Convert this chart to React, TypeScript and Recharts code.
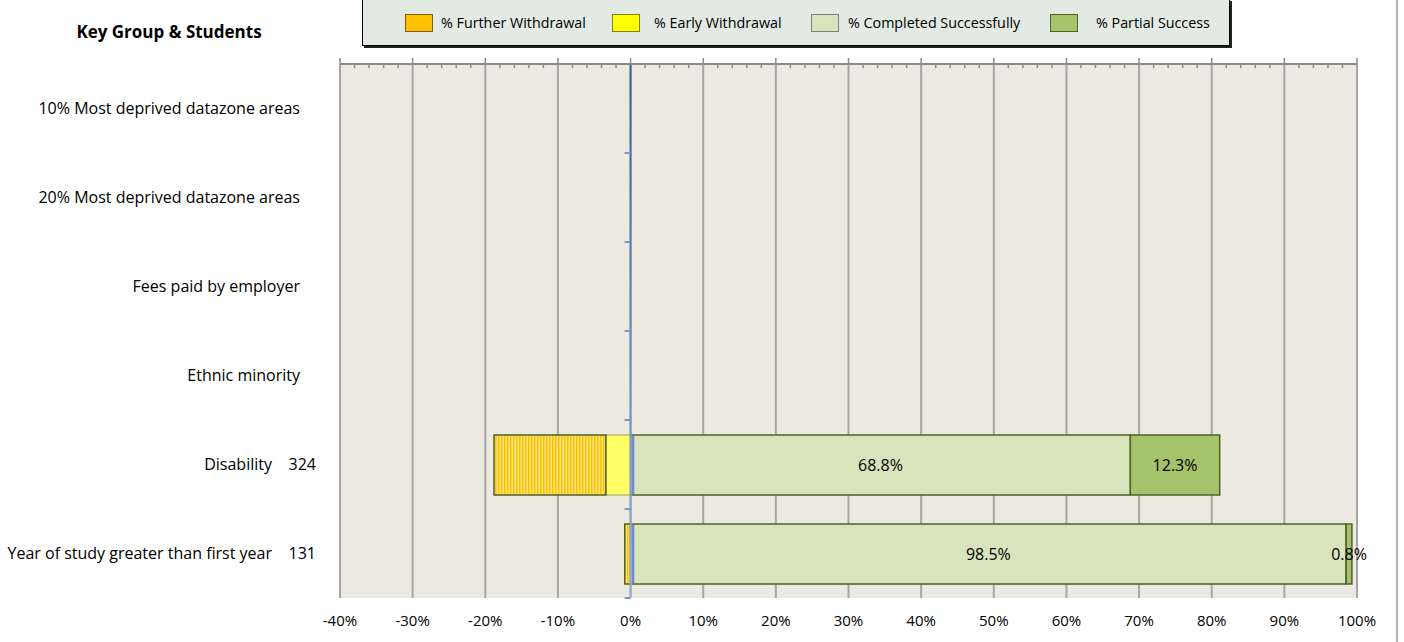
import React from "react";
import {
  BarChart, Bar, XAxis, YAxis, CartesianGrid, ReferenceLine, LabelList, Rectangle,
} from "recharts";

// key groups (top to bottom) and student counts
const groups = [
  "10% Most deprived datazone areas",
  "20% Most deprived datazone areas",
  "Fees paid by employer",
  "Ethnic minority",
  "Disability",
  "Year of study greater than first year",
];
const counts: (number | null)[] = [null, null, null, null, 324, 131];

// percentages; withdrawals plotted on the negative side
const earlyWithdrawal: (number | null)[] = [null, null, null, null, -3.4, 0];
const furtherWithdrawal: (number | null)[] = [null, null, null, null, -15.4, -0.8];
const completedSuccessfully: (number | null)[] = [null, null, null, null, 68.8, 98.5];
const partialSuccess: (number | null)[] = [null, null, null, null, 12.3, 0.8];

const majorTicks = [-40, -30, -20, -10, 0, 10, 20, 30, 40, 50, 60, 70, 80, 90, 100];
const minorTicks = [
  -40, -38, -36, -34, -32, -30, -28, -26, -24, -22, -20, -18, -16, -14, -12, -10, -8, -6, -4, -2,
  0, 2, 4, 6, 8, 10, 12, 14, 16, 18, 20, 22, 24, 26, 28, 30, 32, 34, 36, 38, 40, 42, 44, 46, 48,
  50, 52, 54, 56, 58, 60, 62, 64, 66, 68, 70, 72, 74, 76, 78, 80, 82, 84, 86, 88, 90, 92, 94, 96, 98, 100,
];

const data = groups.map((name, i) => ({
  name,
  early: earlyWithdrawal[i],
  further: furtherWithdrawal[i],
  completed: completedSuccessfully[i],
  partial: partialSuccess[i],
}));

const FONT = "'Open Sans', 'Noto Sans', sans-serif";

const legendItems = [
  { label: "% Further Withdrawal", fill: "#FFC000", border: "#7F6000", left: 42, textLeft: 78 },
  { label: "% Early Withdrawal", fill: "#FFFF00", border: "#7F7F00", left: 249, textLeft: 291 },
  { label: "% Completed Successfully", fill: "#D8E4BC", border: "#7F7F7F", left: 448, textLeft: 485 },
  { label: "% Partial Success", fill: "#A5C36B", border: "#4F6228", left: 687, textLeft: 733 },
];

const GroupTick = (props: any) => {
  const { x, y, payload } = props;
  const i = groups.indexOf(payload.value);
  const n = counts[i];
  const style = { fontFamily: FONT, fontSize: 16, fill: "#000" };
  return (
    <g>
      <text x={n != null ? x - 68 : x - 40} y={y} dy="0.35em" textAnchor="end" style={style}>
        {payload.value}
      </text>
      {n != null && (
        <text x={x - 24} y={y} dy="0.35em" textAnchor="end" style={style}>{n}</text>
      )}
    </g>
  );
};

const TopTick = (props: any) => {
  const { x, y, payload } = props;
  const major = payload.value % 10 === 0;
  return (
    <line x1={x} x2={x} y1={y} y2={major ? y - 6 : y + 4} stroke="#8A8A8A" strokeWidth={1.5} />
  );
};

// category axis crossing at 0 with boundary ticks
const ZeroAxis = (props: any) => {
  const { x1, y1, y2 } = props;
  const marks = groups.map((_, i) => y1 + ((y2 - y1) * i) / groups.length).concat([y2]);
  return (
    <g>
      <line x1={x1} x2={x1} y1={y1} y2={y2} stroke="url(#zeroGrad)" strokeWidth={2} />
      {marks.map((m, i) => (
        <line key={i} x1={x1 - 6} x2={x1} y1={m} y2={m} stroke="#7A98C4" strokeWidth={2} />
      ))}
    </g>
  );
};

// completed bar with the bluish edge next to the zero axis
const CompletedShape = (props: any) => {
  const { x, y, width, height } = props;
  if (!width || !height) return null;
  return (
    <g>
      <Rectangle {...props} />
      <line x1={x + 2.5} x2={x + 2.5} y1={y + 1} y2={y + height - 1} stroke="#6676D6" strokeWidth={2.5} opacity={0.85} />
    </g>
  );
};

const pct = (v: any) => (v ? `${v}%` : "");

export default function App() {
  return (
    <div style={{ position: "absolute", left: 0, top: 0, width: 1404, height: 642, background: "#fff" }}>
      <BarChart
        width={1404}
        height={642}
        data={data}
        layout="vertical"
        stackOffset="sign"
        barSize={60}
        margin={{ top: 63, right: 47, bottom: 0, left: 0 }}
      >
        <defs>
          <pattern id="furtherPat" width="3" height="4" patternUnits="userSpaceOnUse">
            <rect width="3" height="4" fill="#FFE680" />
            <rect width="1.5" height="4" fill="#FFC000" />
          </pattern>
          <linearGradient id="zeroGrad" x1="0" y1="64" x2="0" y2="598" gradientUnits="userSpaceOnUse">
            <stop offset="0%" stopColor="#3C6498" />
            <stop offset="100%" stopColor="#93B1DE" />
          </linearGradient>
        </defs>
        <CartesianGrid
          xAxisId="b"
          horizontal={false}
          fill="#ECEAE0"
          stroke="#A6A6A6"
          strokeWidth={2}
        />
        <XAxis
          xAxisId="b"
          type="number"
          domain={[-40, 100]}
          ticks={majorTicks}
          interval={0}
          tickFormatter={(v) => `${v}%`}
          axisLine={false}
          tickLine={false}
          tickSize={0}
          tickMargin={17}
          height={44}
          tick={{ fontFamily: FONT, fontSize: 15, fill: "#000" }}
          allowDataOverflow
        />
        <XAxis
          xAxisId="t"
          orientation="top"
          type="number"
          domain={[-40, 100]}
          ticks={minorTicks}
          interval={0}
          axisLine={{ stroke: "#8A8A8A", strokeWidth: 2 }}
          tickLine={false}
          tickSize={0}
          tickMargin={0}
          height={1}
          tick={<TopTick />}
          allowDataOverflow
        />
        <YAxis
          type="category"
          dataKey="name"
          width={340}
          axisLine={false}
          tickLine={false}
          tickSize={0}
          tickMargin={0}
          interval={0}
          tick={<GroupTick />}
        />
        <Bar xAxisId="b" dataKey="early" stackId="s" fill="#FFFF66" stroke="#9A9A60" strokeWidth={1} isAnimationActive={false} />
        <Bar xAxisId="b" dataKey="further" stackId="s" fill="url(#furtherPat)" stroke="#4F6228" strokeWidth={1.5} isAnimationActive={false} />
        <Bar xAxisId="b" dataKey="completed" stackId="s" fill="#D8E4BC" stroke="#4F6228" strokeWidth={1.5} shape={<CompletedShape />} isAnimationActive={false}>
          <LabelList dataKey="completed" position="center" formatter={pct} style={{ fontFamily: FONT, fontSize: 16, fill: "#000" }} />
        </Bar>
        <Bar xAxisId="b" dataKey="partial" stackId="s" fill="#A5C36B" stroke="#4F6228" strokeWidth={1.5} isAnimationActive={false}>
          <LabelList dataKey="partial" position="center" formatter={pct} style={{ fontFamily: FONT, fontSize: 16, fill: "#000" }} />
        </Bar>
        <ReferenceLine xAxisId="b" x={0} shape={<ZeroAxis />} />
      </BarChart>

      <div
        style={{
          position: "absolute", left: 56, top: 20, width: 226, textAlign: "center",
          fontFamily: FONT, fontWeight: 700, fontSize: 17, color: "#000",
        }}
      >
        Key Group &amp; Students
      </div>

      <div
        style={{
          position: "absolute", left: 362, top: -1, width: 866, height: 45,
          background: "#E3E9E3", border: "1px solid #000", boxShadow: "2px 2px 0 #222",
          fontFamily: FONT, fontSize: 14.3, color: "#000",
        }}
      >
        {legendItems.map((it) => (
          <React.Fragment key={it.label}>
            <div
              style={{
                position: "absolute", left: it.left, top: 14, width: 26, height: 16,
                background: it.fill, border: `1px solid ${it.border}`,
              }}
            />
            <div style={{ position: "absolute", left: it.textLeft, top: 13, whiteSpace: "nowrap" }}>{it.label}</div>
          </React.Fragment>
        ))}
      </div>

      <div style={{ position: "absolute", left: 1396, top: 0, width: 2, height: 642, background: "#B0B0B0" }} />
    </div>
  );
}
